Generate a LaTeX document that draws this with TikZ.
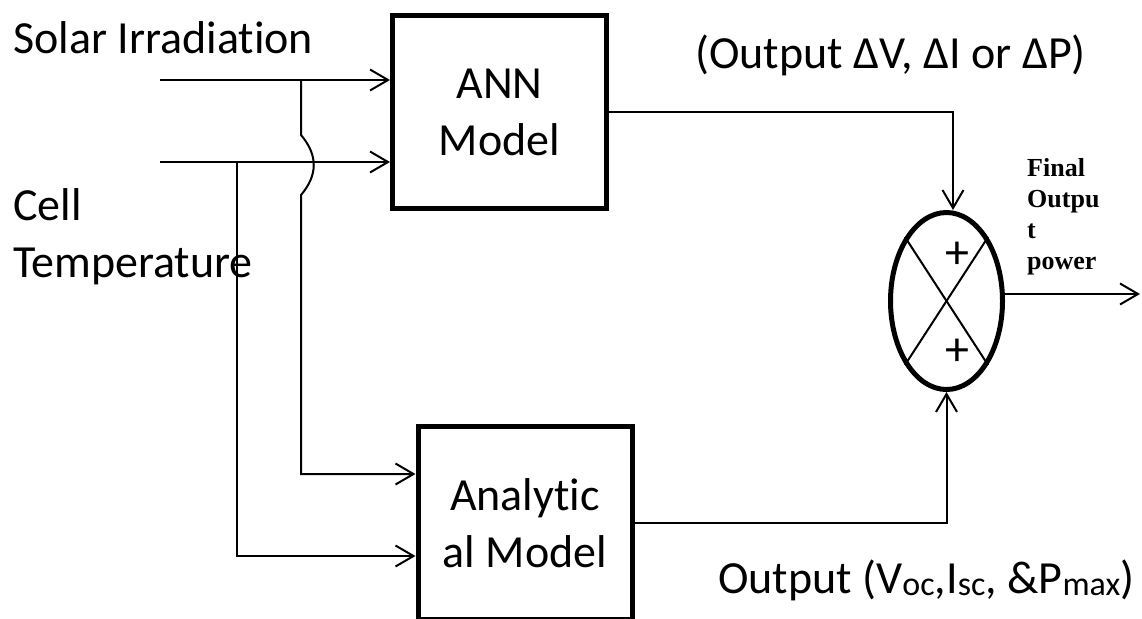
\documentclass[tikz,border=0pt]{standalone}
\usepackage{fontspec}
\setmainfont{Carlito}[Ligatures=NoCommon]
\newfontfamily\serifbold{Liberation Serif}
\usetikzlibrary{arrows.meta, positioning, shapes.geometric}

\newcommand{\bigfont}{\fontsize{46}{57}\selectfont}
\newcommand{\lowsub}[1]{\raisebox{-2pt}{\fontsize{34}{34}\selectfont #1}}

\tikzset{
    block/.style = {draw, line width=5pt, minimum width=214pt, minimum height=193pt,
                    inner sep=0pt, align=center, font=\bigfont},
    summer/.style = {ellipse, draw, line width=5pt, minimum width=112pt,
                     minimum height=177pt, inner sep=0pt},
    txt/.style = {inner sep=0pt, font=\bigfont},
    flow/.style = {line width=2pt, -{Straight Barb[length=18pt, width=21pt]}},
}

\begin{document}
\begin{tikzpicture}[x=1pt, y=-1pt, node distance=1cm, on grid]
        \clip (0,0) rectangle (1142,618);

        % the two models and the summing point
        \node (ann) [block] at (499.5,112) {ANN\\Model};
        \node (ana) [block, below right=411pt and 25.5pt of ann] {Analytic\\al Model};
        \node (sum) [summer, below right=189pt and 447pt of ann] {};
        \draw [line width=2pt] (sum.57) -- (sum.237);
        \draw [line width=2pt] (sum.123) -- (sum.303);
        \node (plus1) [txt, font=\fontsize{48}{48}\selectfont] at ([xshift=10.5pt, yshift=46pt]sum.center) {+};
        \node (plus2) [txt, font=\fontsize{48}{48}\selectfont] at ([xshift=10.5pt, yshift=-51pt]sum.center) {+};

        % inputs
        \coordinate (solar in) at (160,80);
        \coordinate (cell in) at (160,162);
        \coordinate (tap solar) at (301,80);
        \coordinate (tap cell) at (237,162);
        \coordinate (ana top in) at ([yshift=49pt]ana.west);
        \coordinate (ana bot in) at ([yshift=-33pt]ana.west);

        \draw [flow] (solar in) -- (solar in -| ann.west);
        \draw [flow] (cell in) -- (cell in -| ann.west);
        \draw [flow] (tap solar) -- (301,135) .. controls (318,155) and (318,175) .. (301,195)
            -- (tap solar |- ana top in) -- (ana top in);
        \draw [flow] (tap cell) -- (tap cell |- ana bot in) -- (ana bot in);

        % outputs
        \coordinate (final out) at (1140,294);
        \draw [flow] (ann.east) -| ([xshift=6.5pt]sum.north);
        \draw [flow] (ana.east) -| (sum.south);
        \draw [flow] ([yshift=7pt]sum.east) -- (final out);

        % labels
        \node (solar) [txt, anchor=base west] at (13,53) {Solar Irradiation};
        \node (cell) [txt, anchor=north west, align=left] at (13,188) {Cell\\Temperature};
        \node (dout) [txt, anchor=base west] at (695,69) {(Output ΔV, ΔI or ΔP)};
        \node (aout) [txt, anchor=base west] at (718,593)
            {Output (V\lowsub{oc},I\lowsub{sc}, \&P\lowsub{max})};
        \node (final) [inner sep=0pt, anchor=north west, align=left,
            font=\serifbold\bfseries\fontsize{26}{31}\selectfont] at (1027,158)
            {Final\\Outpu\\t\\power};
\end{tikzpicture}
\end{document}
